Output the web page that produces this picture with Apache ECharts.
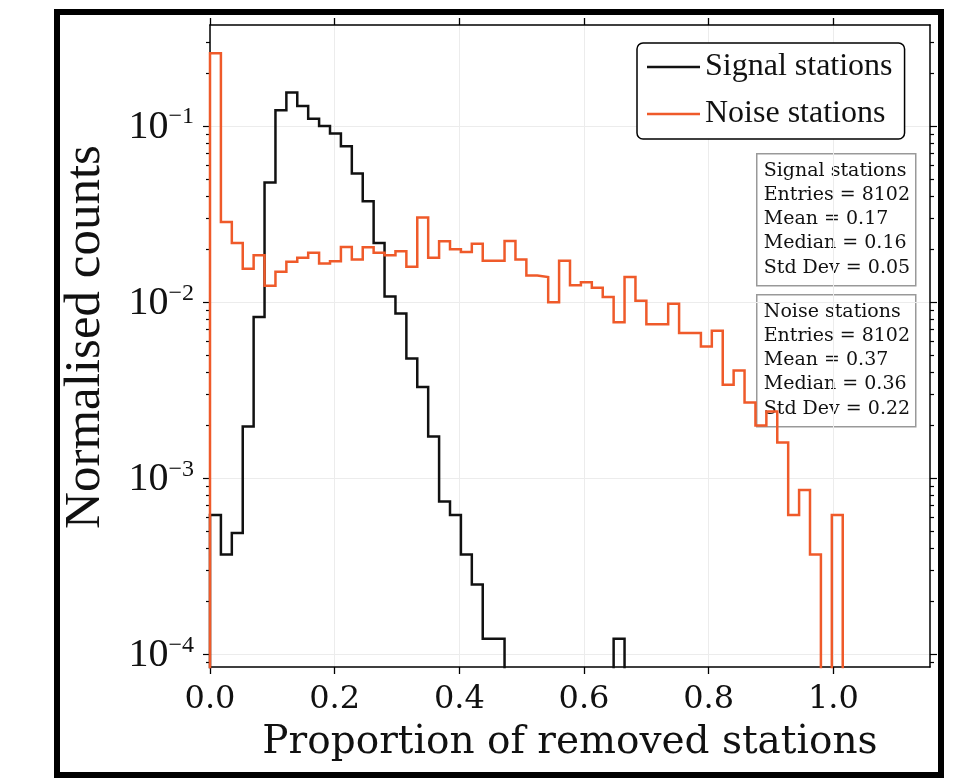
<!DOCTYPE html>
<html>
<head>
<meta charset="utf-8">
<script src="https://cdn.jsdelivr.net/npm/echarts@6/dist/echarts.min.js"></script>
<style>
  html, body { margin: 0; padding: 0; background: #fff; }
  #chart { width: 954px; height: 779px; }
</style>
</head>
<body>
<div id="chart"></div>
<script>
// histogram: 66 bins of width 0.0175 between 0 and 1.155
const binWidth = 0.0175;

// normalised counts per bin (0 = empty bin)
const signalValues = [
  0.00062, 0.00037, 0.00049, 0.00197, 0.00826, 0.0479, 0.123, 0.155, 0.130, 0.110,
  0.100, 0.0909, 0.0769, 0.0538, 0.0375, 0.0217, 0.0108, 0.00863, 0.00479, 0.00330,
  0.00173, 0.00074, 0.00062, 0.00037, 0.00025, 0.000123, 0.000123, 0, 0, 0,
  0, 0, 0, 0, 0, 0, 0, 0.000123, 0, 0,
  0, 0, 0, 0, 0, 0, 0, 0, 0, 0,
  0, 0, 0, 0, 0, 0, 0, 0, 0, 0,
  0, 0, 0, 0, 0, 0
];
const noiseValues = [
  0.259, 0.0286, 0.0217, 0.0155, 0.0185, 0.0124, 0.0149, 0.0170, 0.0179, 0.0191,
  0.0166, 0.0171, 0.0206, 0.0175, 0.0205, 0.0191, 0.0185, 0.0195, 0.0159, 0.0303,
  0.0179, 0.0222, 0.0200, 0.0193, 0.0215, 0.0172, 0.0172, 0.0223, 0.0175, 0.0142,
  0.0139, 0.0100, 0.0172, 0.0125, 0.0130, 0.0121, 0.0107, 0.0077, 0.0139, 0.0102,
  0.0075, 0.0075, 0.0098, 0.0067, 0.0067, 0.0056, 0.0069, 0.0034, 0.0041, 0.0027,
  0.0020, 0.0024, 0.0016, 0.00062, 0.00086, 0.00037, 0, 0.00062, 0, 0,
  0, 0, 0, 0, 0, 0
];

const xTickValues = [0, 0.2, 0.4, 0.6, 0.8, 1.0];
const yTickValues = [1e-4, 1e-3, 1e-2, 1e-1];
const yMinorValues = [
  9e-5,
  2e-4, 3e-4, 4e-4, 5e-4, 6e-4, 7e-4, 8e-4, 9e-4,
  2e-3, 3e-3, 4e-3, 5e-3, 6e-3, 7e-3, 8e-3, 9e-3,
  2e-2, 3e-2, 4e-2, 5e-2, 6e-2, 7e-2, 8e-2, 9e-2,
  0.2, 0.3
];

const signalStats = ['Signal stations', 'Entries = 8102', 'Mean = 0.17', 'Median = 0.16', 'Std Dev = 0.05'];
const noiseStats = ['Noise stations', 'Entries = 8102', 'Mean = 0.37', 'Median = 0.36', 'Std Dev = 0.22'];

const X_MAX = 1.155;
const Y_MIN = 8.5e-5;
const Y_MAX = 0.375;
const FLOOR = 1e-8; // empty bins drop below the axis (log scale)

const SIGNAL_COLOR = '#111111';
const NOISE_COLOR = '#ef5a2a';

// outline of a step histogram: rise at first edge, drop at last edge
function stepData(vals) {
  const pts = [[0, FLOOR]];
  vals.forEach((v, i) => pts.push([i * binWidth, v > 0 ? v : FLOOR]));
  pts.push([vals.length * binWidth, FLOOR]);
  return pts;
}

const axisColor = '#000';
const gridColor = '#ececec';

function xAxisBase(position) {
  return {
    type: 'value',
    position,
    min: 0,
    max: X_MAX,
    axisLine: { show: true, onZero: false, lineStyle: { color: axisColor, width: 1.5 } },
    axisTick: { show: true, customValues: xTickValues, length: 7, lineStyle: { color: axisColor, width: 1.3 } },
  };
}

function yAxisBase(position, ticks, len, showLine) {
  return {
    type: 'log',
    logBase: 10,
    position,
    min: Y_MIN,
    max: Y_MAX,
    axisLine: { show: showLine, lineStyle: { color: axisColor, width: 1.5 } },
    axisTick: { show: true, customValues: ticks, length: len, lineStyle: { color: axisColor, width: 1.2 } },
    axisLabel: { show: false },
    splitLine: { show: false },
  };
}

const myChart = echarts.init(document.getElementById('chart'), null, { renderer: 'canvas' });

const yMain = yAxisBase('left', yTickValues, 7, true);
yMain.axisLabel = {
  show: true,
  customValues: yTickValues,
  margin: 16,
  formatter: (v) => '{b|10}{s|\u2212' + Math.round(-Math.log10(v)) + '}',
  rich: {
    b: { fontFamily: 'Liberation Serif', fontSize: 40, color: '#111', lineHeight: 42, verticalAlign: 'bottom' },
    s: { fontFamily: 'Liberation Serif', fontSize: 24, color: '#111', lineHeight: 16, verticalAlign: 'top' },
  },
};
yMain.splitLine = { show: true, lineStyle: { color: gridColor, width: 1 } };
yMain.name = 'Normalised counts';
yMain.nameLocation = 'middle';
yMain.nameRotate = 90;
yMain.nameGap = 99;
yMain.nameTextStyle = { fontFamily: 'Liberation Serif', fontSize: 51, color: '#111', padding: [0, 0, 0, 18] };

const xMain = xAxisBase('bottom');
xMain.axisLabel = {
  show: true,
  customValues: xTickValues,
  margin: 17,
  formatter: (v) => v.toFixed(1),
  fontFamily: 'DejaVu Serif',
  fontSize: 32,
  color: '#111',
};
xMain.splitLine = { show: true, lineStyle: { color: gridColor, width: 1 } };
xMain.name = 'Proportion of removed stations';
xMain.nameLocation = 'middle';
xMain.nameGap = 56;
xMain.nameTextStyle = { fontFamily: 'DejaVu Serif', fontSize: 39, color: '#111' };

const xTop = xAxisBase('top');
xTop.axisLabel = { show: false };
xTop.splitLine = { show: false };

function statsBox(lines, top) {
  return {
    type: 'group',
    left: 756,
    top,
    z: 100,
    children: [
      {
        type: 'rect',
        shape: { x: 0, y: 0, width: 159, height: 132 },
        style: { fill: 'rgba(255,255,255,0.8)', stroke: '#999', lineWidth: 1.5 },
      },
      {
        type: 'text',
        x: 7,
        y: 5,
        style: {
          text: lines.join('\n'),
          fontFamily: 'DejaVu Serif',
          fontSize: 19,
          lineHeight: 24.2,
          fill: '#111',
        },
      },
    ],
  };
}

myChart.setOption({
  animation: false,
  backgroundColor: '#fff',
  grid: { left: 210, right: 24, top: 25, bottom: 112, containLabel: false, outerBoundsMode: 'none' },
  legend: {
    orient: 'vertical',
    left: 637,
    top: 43,
    padding: [8, 12, 9, 10],
    itemGap: 15,
    itemWidth: 53,
    itemHeight: 2.5,
    icon: 'rect',
    backgroundColor: '#fff',
    borderColor: '#000',
    borderWidth: 1.5,
    borderRadius: 6,
    textStyle: { fontFamily: 'Liberation Serif', fontSize: 32, color: '#111' },
    data: ['Signal stations', 'Noise stations'],
  },
  xAxis: [xMain, xTop],
  yAxis: [
    yMain,
    yAxisBase('left', yMinorValues, 4, false),
    yAxisBase('right', yTickValues, 7, true),
    yAxisBase('right', yMinorValues, 4, false),
  ],
  series: [
    {
      name: 'Signal stations',
      type: 'line',
      step: 'end',
      symbol: 'none',
      clip: true,
      xAxisIndex: 0,
      yAxisIndex: 0,
      lineStyle: { color: SIGNAL_COLOR, width: 2.5, join: 'miter' },
      itemStyle: { color: SIGNAL_COLOR },
      data: stepData(signalValues),
    },
    {
      name: 'Noise stations',
      type: 'line',
      step: 'end',
      symbol: 'none',
      clip: true,
      xAxisIndex: 0,
      yAxisIndex: 0,
      lineStyle: { color: NOISE_COLOR, width: 2.5, join: 'miter' },
      itemStyle: { color: NOISE_COLOR },
      data: stepData(noiseValues),
    },
  ],
  graphic: [
    statsBox(signalStats, 153),
    statsBox(noiseStats, 294),
    {
      type: 'rect',
      z: 100,
      shape: { x: 57, y: 12, width: 884, height: 763 },
      style: { fill: 'none', stroke: '#000', lineWidth: 6 },
    },
  ],
});
</script>
</body>
</html>
